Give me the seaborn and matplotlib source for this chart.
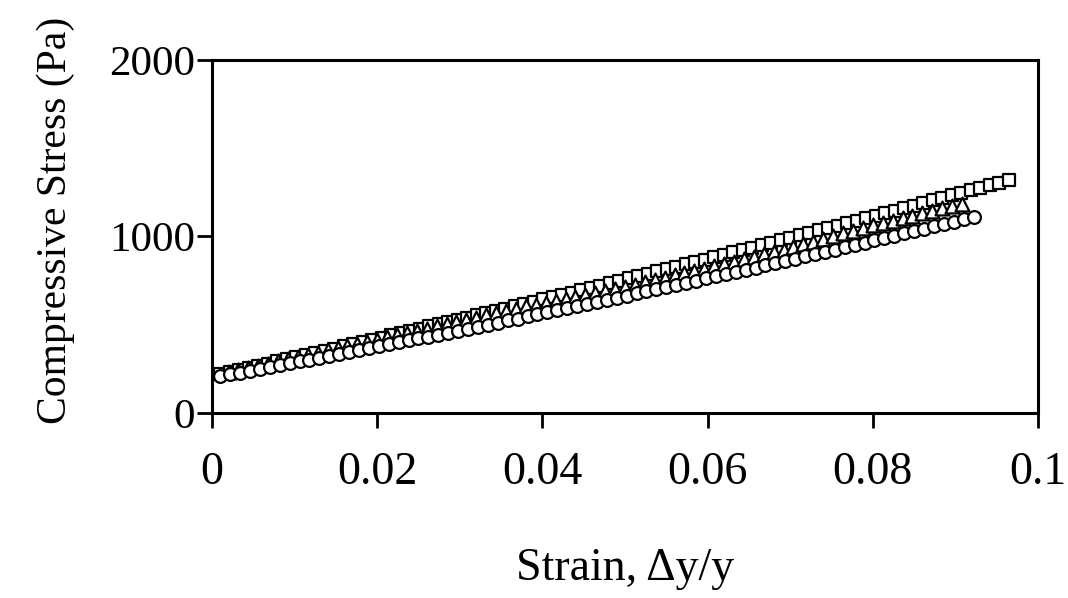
import matplotlib
matplotlib.use("Agg")
import matplotlib.pyplot as plt
import seaborn as sns
import pandas as pd

# ---- data ----
sq_strain = [0.00100, 0.00215, 0.00330, 0.00445, 0.00560, 0.00675, 0.00790, 0.00905, 0.01020, 0.01135,
             0.01250, 0.01365, 0.01480, 0.01595, 0.01710, 0.01825, 0.01940, 0.02055, 0.02170, 0.02285,
             0.02400, 0.02515, 0.02630, 0.02745, 0.02860, 0.02975, 0.03090, 0.03205, 0.03320, 0.03435,
             0.03550, 0.03665, 0.03780, 0.03895, 0.04010, 0.04125, 0.04240, 0.04355, 0.04470, 0.04585,
             0.04700, 0.04815, 0.04930, 0.05045, 0.05160, 0.05275, 0.05390, 0.05505, 0.05620, 0.05735,
             0.05850, 0.05965, 0.06080, 0.06195, 0.06310, 0.06425, 0.06540, 0.06655, 0.06770, 0.06885,
             0.07000, 0.07115, 0.07230, 0.07345, 0.07460, 0.07575, 0.07690, 0.07805, 0.07920, 0.08035,
             0.08150, 0.08265, 0.08380, 0.08495, 0.08610, 0.08725, 0.08840, 0.08955, 0.09070, 0.09185,
             0.09300, 0.09415, 0.09530, 0.09645]
sq_stress = [220, 232, 244, 256, 268, 280, 292, 304, 316, 329,
             341, 353, 365, 378, 390, 402, 415, 427, 439, 452,
             464, 477, 490, 502, 515, 528, 540, 553, 566, 579,
             591, 604, 617, 630, 643, 656, 669, 682, 695, 709,
             722, 735, 748, 762, 775, 788, 802, 815, 828, 842,
             855, 869, 883, 896, 910, 923, 937, 951, 965, 978,
             992, 1006, 1020, 1034, 1048, 1062, 1076, 1090, 1104, 1118,
             1133, 1147, 1161, 1175, 1190, 1204, 1218, 1233, 1247, 1262,
             1276, 1291, 1305, 1320]

tri_strain = [0.0020, 0.0032, 0.0044, 0.0056, 0.0068, 0.0080, 0.0092, 0.0104, 0.0116, 0.0128,
              0.0140, 0.0152, 0.0164, 0.0176, 0.0188, 0.0200, 0.0212, 0.0224, 0.0236, 0.0248,
              0.0260, 0.0272, 0.0284, 0.0296, 0.0308, 0.0320, 0.0332, 0.0344, 0.0356, 0.0368,
              0.0380, 0.0392, 0.0404, 0.0416, 0.0428, 0.0440, 0.0452, 0.0464, 0.0476, 0.0488,
              0.0500, 0.0512, 0.0524, 0.0536, 0.0548, 0.0560, 0.0572, 0.0584, 0.0596, 0.0608,
              0.0620, 0.0632, 0.0644, 0.0656, 0.0668, 0.0680, 0.0692, 0.0704, 0.0716, 0.0728,
              0.0740, 0.0752, 0.0764, 0.0776, 0.0788, 0.0800, 0.0812, 0.0824, 0.0836, 0.0848,
              0.0860, 0.0872, 0.0884, 0.0896, 0.0908]
tri_stress = [232, 244, 256, 268, 280, 293, 305, 317, 329, 341,
              354, 366, 378, 391, 403, 415, 428, 440, 453, 465,
              477, 490, 503, 515, 528, 540, 553, 566, 578, 591,
              604, 614, 625, 636, 647, 658, 668, 679, 690, 701,
              714, 727, 740, 753, 766, 779, 792, 805, 818, 832,
              845, 858, 871, 884, 898, 911, 924, 940, 955, 970,
              986, 1001, 1017, 1032, 1048, 1063, 1077, 1090, 1104, 1118,
              1131, 1145, 1159, 1172, 1186]

cir_strain = [0.0010, 0.0022, 0.0034, 0.0046, 0.0058, 0.0070, 0.0082, 0.0094, 0.0106, 0.0118,
              0.0130, 0.0142, 0.0154, 0.0166, 0.0178, 0.0190, 0.0202, 0.0214, 0.0226, 0.0238,
              0.0250, 0.0262, 0.0274, 0.0286, 0.0298, 0.0310, 0.0322, 0.0334, 0.0346, 0.0358,
              0.0370, 0.0382, 0.0394, 0.0406, 0.0418, 0.0430, 0.0442, 0.0454, 0.0466, 0.0478,
              0.0490, 0.0502, 0.0514, 0.0526, 0.0538, 0.0550, 0.0562, 0.0574, 0.0586, 0.0598,
              0.0610, 0.0622, 0.0634, 0.0646, 0.0658, 0.0670, 0.0682, 0.0694, 0.0706, 0.0718,
              0.0730, 0.0742, 0.0754, 0.0766, 0.0778, 0.0790, 0.0802, 0.0814, 0.0826, 0.0838,
              0.0850, 0.0862, 0.0874, 0.0886, 0.0898, 0.0910, 0.0922]
cir_stress = [209, 219, 229, 239, 250, 260, 271, 281, 292, 302,
              313, 324, 335, 345, 356, 367, 378, 389, 400, 411,
              422, 433, 444, 455, 467, 478, 489, 501, 512, 524,
              535, 547, 558, 570, 582, 593, 605, 617, 629, 641,
              653, 665, 677, 689, 701, 713, 725, 737, 750, 762,
              774, 787, 799, 812, 824, 837, 850, 862, 875, 888,
              900, 913, 926, 939, 952, 965, 978, 991, 1004, 1018,
              1031, 1044, 1058, 1071, 1084, 1098, 1111]

x_ticks = [0, 0.02, 0.04, 0.06, 0.08, 0.1]
x_ticklabels = ["0", "0.02", "0.04", "0.06", "0.08", "0.1"]
y_ticks = [0, 1000, 2000]
y_ticklabels = ["0", "1000", "2000"]

sq_df = pd.DataFrame({"strain": sq_strain, "stress": sq_stress})
tri_df = pd.DataFrame({"strain": tri_strain, "stress": tri_stress})
cir_df = pd.DataFrame({"strain": cir_strain, "stress": cir_stress})

# ---- style ----
sns.set_style("ticks")
plt.rcParams["font.family"] = ["Liberation Serif", "DejaVu Serif"]

fig = plt.figure(figsize=(10.68, 5.98), dpi=100)
ax = fig.add_axes([0.1985, 0.3094, 0.7734, 0.5903])

common = dict(ax=ax, color="white", edgecolor="black", linewidth=1.6, legend=False, zorder=3)
sns.scatterplot(data=sq_df, x="strain", y="stress", marker="s", s=85, **common)
sns.scatterplot(data=tri_df, x="strain", y="stress", marker="^", s=100, **common)
sns.scatterplot(data=cir_df, x="strain", y="stress", marker="o", s=85, **common)

ax.set_xlim(0, 0.1)
ax.set_ylim(0, 2000)
ax.set_xticks(x_ticks)
ax.set_xticklabels(x_ticklabels)
ax.set_yticks(y_ticks)
ax.set_yticklabels(y_ticklabels)

for sp in ax.spines.values():
    sp.set_linewidth(2.2)
    sp.set_color("black")
    sp.set_visible(True)

ax.tick_params(axis="both", direction="out", length=11, width=2, colors="black")
ax.tick_params(axis="x", pad=17, labelsize=33)
ax.tick_params(axis="y", pad=1, labelsize=31)

ax.set_xlabel("Strain, \u0394y/y", fontsize=33, color="black")
ax.set_ylabel("Compressive Stress (Pa)", fontsize=30, color="black")
ax.xaxis.set_label_coords(0.5, -0.38)
ax.yaxis.set_label_coords(-0.166, 0.545)

fig.savefig("out.png", dpi=100, facecolor="white")
